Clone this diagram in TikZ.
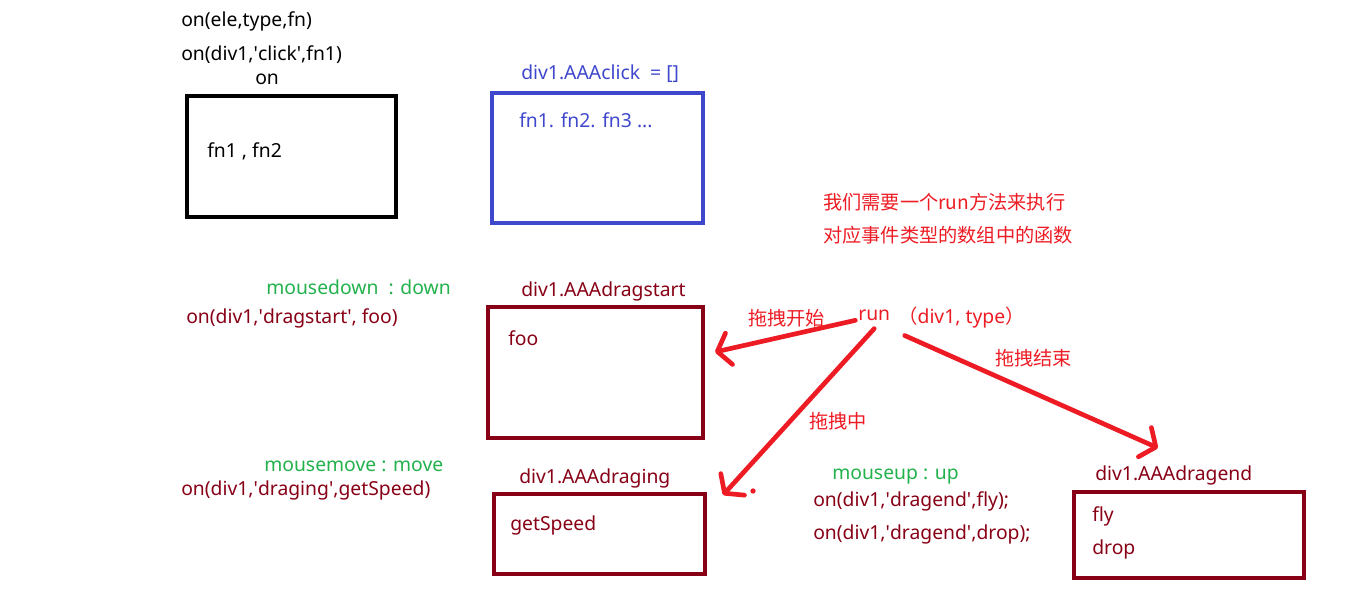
\documentclass[tikz,border=0pt]{standalone}
\usepackage{fontspec}
\setmainfont{Noto Sans}
\newfontfamily\cjk{Noto Sans CJK SC}
\usepackage{tikz}
\usetikzlibrary{arrows.meta}
\usetikzlibrary{positioning}

\definecolor{pblue}{RGB}{63,72,204}
\definecolor{pdkred}{RGB}{136,0,21}
\definecolor{pred}{RGB}{237,28,36}
\definecolor{pgreen}{RGB}{34,177,76}

\newcommand\sq{\textquotesingle}

\tikzset{
  box/.style={draw=#1, line width=3pt, inner sep=0pt},
  txt/.style={text=#1, anchor=west, inner sep=0pt, font=\fontsize{14.5pt}{17pt}\selectfont},
  han/.style={txt=#1, font=\cjk\fontsize{14.4pt}{17pt}\selectfont},
  pen/.style={draw=pred, line width=3.5pt, line cap=round,
    -{Straight Barb[length=9pt,width=24pt,round]}}
}

\begin{document}
\begin{tikzpicture}[x=0.75pt, y=-0.75pt]
    \useasboundingbox (0,0) rectangle (1360,591);

    % boxes
    \node [box=black, minimum width=156.75pt, minimum height=90.75pt] (onbox) at (291.5,156.5) {};
    \node [box=pblue, minimum width=158.25pt, minimum height=97.5pt] (clickbox) at (597.5,158) {};
    \node [box=pdkred, minimum width=161.25pt, minimum height=98.25pt] (startbox) at (595.5,372.5) {};
    \node [box=pdkred, minimum width=158.25pt, minimum height=60pt] (dragbox) at (599.5,534) {};
    \node [box=pdkred, minimum width=172.5pt, minimum height=64.5pt] (endbox) at (1189,535) {};

    % top part
    \node [txt=black] (sig) at (181,21) {on(ele,type,fn)};
    \node [txt=black] (onclick) at (181,55) {on(div1,\sq click\sq,fn1)};
    \node [txt=black] (onname) at (255,79) {on};
    \node [txt=black] (onfns) at (207,151) {fn1 , fn2};
    \node [txt=pblue] (clickname) at (521,74) {div1.AAAclick \ = []};
    \node [txt=pblue] (clickfns) at (519,120) {fn1. fn2. fn3 ...};
    \node [han=pred] (note1) at (823,202) {我们需要一个run方法来执行};
    \node [han=pred] (note2) at (823,235) {对应事件类型的数组中的函数};

    % dragstart
    \node [txt=pgreen] (down) at (266,287) {mousedown\ \ : down};
    \node [txt=pdkred] (ondown) at (186,318) {on(div1,\sq dragstart\sq, foo)};
    \node [txt=pdkred] (startname) at (521,291) {div1.AAAdragstart};
    \node [txt=pdkred] (foo) at (508,338) {foo};

    % run
    \node [txt=pred] (run) at (858,315) {run};
    \node [txt=pred] (args) at (898,318) {{\cjk （}div1, type{\cjk ）}};
    \node [han=pred] (lstart) at (748,318) {拖拽开始};
    \node [han=pred] (lend) at (995,358) {拖拽结束};
    \node [han=pred] (lmid) at (809,421) {拖拽中};

    % draging
    \node [txt=pgreen] (move) at (264,466) {mousemove : move};
    \node [txt=pdkred] (onmove) at (181,490) {on(div1,\sq draging\sq,getSpeed)};
    \node [txt=pdkred] (dragname) at (519,478) {div1.AAAdraging};
    \node [txt=pdkred] (speed) at (510,525) {getSpeed};

    % dragend
    \node [txt=pgreen] (up) at (832,477) {mouseup : up};
    \node [txt=pdkred] (onfly) at (813,501) {on(div1,\sq dragend\sq,fly);};
    \node [txt=pdkred] (ondrop) at (813,534) {on(div1,\sq dragend\sq,drop);};
    \node [txt=pdkred] (endname) at (1095,475) {div1.AAAdragend};
    \node [txt=pdkred] (fly) at (1092,516) {fly};
    \node [txt=pdkred] (drop) at (1092,549) {drop};

    \coordinate (tipstart) at (715,352);
    \coordinate (tipmid) at (723,495);
    \coordinate (tipend) at (1158,448);

    \draw [pen] ([xshift=-2pt,yshift=-4pt]run.west) -- (tipstart);
    \draw [pen] ([yshift=-6pt]run.south) -- (tipmid);
    \draw [pen] ([xshift=5pt,yshift=-5pt]args.south west) -- (tipend);
    \fill [pred] (753,491) circle (2pt);
\end{tikzpicture}
\end{document}
